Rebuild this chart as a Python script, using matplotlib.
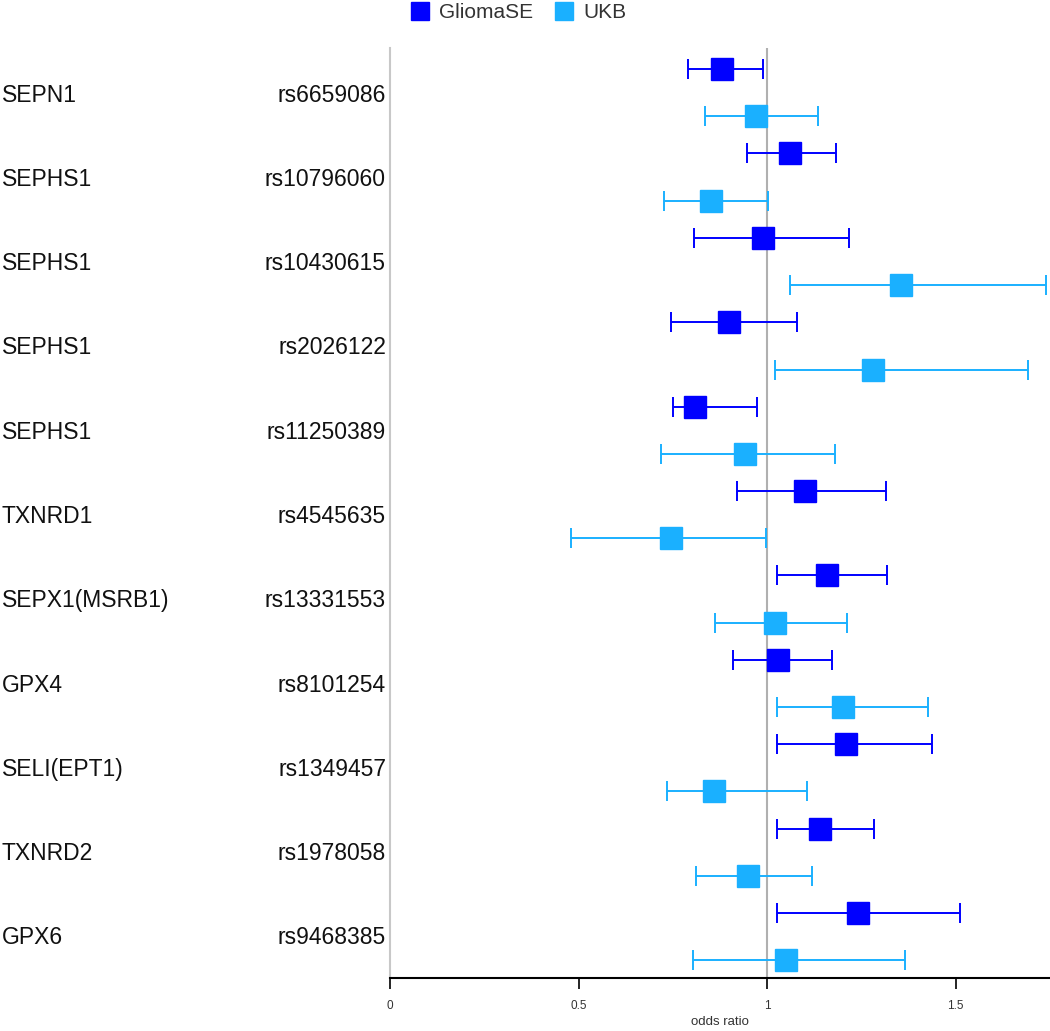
import numpy as np
import matplotlib
matplotlib.use("Agg")
import matplotlib.pyplot as plt
from matplotlib.lines import Line2D

plt.rcParams['font.family'] = ['Liberation Sans', 'DejaVu Sans']

genes = ['SEPN1', 'SEPHS1', 'SEPHS1', 'SEPHS1', 'SEPHS1', 'TXNRD1',
         'SEPX1(MSRB1)', 'GPX4', 'SELI(EPT1)', 'TXNRD2', 'GPX6']
snps = ['rs6659086', 'rs10796060', 'rs10430615', 'rs2026122', 'rs11250389',
        'rs4545635', 'rs13331553', 'rs8101254', 'rs1349457', 'rs1978058', 'rs9468385']

# odds ratios and 95% CI
glioma_or = [0.88, 1.06, 0.99, 0.90, 0.81, 1.10, 1.16, 1.03, 1.21, 1.14, 1.24]
glioma_lo = [0.79, 0.947, 0.806, 0.745, 0.751, 0.92, 1.027, 0.91, 1.027, 1.027, 1.027]
glioma_hi = [0.99, 1.183, 1.218, 1.08, 0.973, 1.316, 1.318, 1.172, 1.438, 1.284, 1.512]

ukb_or = [0.97, 0.85, 1.355, 1.28, 0.94, 0.745, 1.02, 1.20, 0.86, 0.95, 1.05]
ukb_lo = [0.835, 0.727, 1.061, 1.021, 0.719, 0.48, 0.862, 1.027, 0.735, 0.812, 0.804]
ukb_hi = [1.135, 1.003, 1.74, 1.692, 1.18, 0.997, 1.212, 1.427, 1.106, 1.119, 1.366]

c_glioma = '#0000ff'
c_ukb = '#1ab0ff'

fig = plt.figure(figsize=(10.5, 10.31), dpi=100)
ax = fig.add_axes([390/1050, 1 - 978/1031, 660/1050, (978 - 48)/1031])

rows = np.arange(len(genes))
yg = rows - 0.30
yu = rows + 0.26

for y, m, lo, hi, c in [(yg, glioma_or, glioma_lo, glioma_hi, c_glioma),
                        (yu, ukb_or, ukb_lo, ukb_hi, c_ukb)]:
    m = np.array(m)
    err = [m - np.array(lo), np.array(hi) - m]
    ax.errorbar(m, y, xerr=err, fmt='s', color=c, ecolor=c, elinewidth=1.4,
                capsize=7, capthick=1.4, markersize=16, zorder=3)

ax.axvline(1, color='#b0b0b0', lw=1.5, zorder=1)
ax.set_xlim(0, 1.75)
ax.set_ylim(10.47, -0.55)
ax.set_yticks([])
ax.set_xticks([0, 0.5, 1, 1.5])
ax.set_xticklabels(['0', '0.5', '1', '1.5'], fontsize=8.5, color='#333333')
ax.tick_params(axis='x', length=8, width=1.2, pad=8)
for s in ['top', 'right']:
    ax.spines[s].set_visible(False)
ax.spines['left'].set_color('#c8c8c8')
ax.spines['left'].set_linewidth(1.5)
ax.spines['bottom'].set_linewidth(1.5)
ax.set_xlabel('odds ratio', fontsize=9.5, color='#333333', labelpad=3)

# row labels
for r, g, s in zip(rows, genes, snps):
    yf = 1 - (95 + r * 84.3) / 1031
    fig.text(2/1050, yf, g, fontsize=16.5, ha='left', va='center', color='#111111')
    fig.text(386/1050, yf, s, fontsize=16.5, ha='right', va='center', color='#111111')

# legend
handles = [Line2D([], [], marker='s', ls='', color=c_glioma, markersize=13),
           Line2D([], [], marker='s', ls='', color=c_ukb, markersize=13)]
fig.legend(handles, ['GliomaSE', 'UKB'], loc='center', bbox_to_anchor=(517/1050, 1 - 13/1031),
           ncol=2, frameon=False, fontsize=15, handletextpad=0.3, columnspacing=0.9,
           handlelength=1.2, labelcolor='#333333')

fig.savefig('out.png', dpi=100)
